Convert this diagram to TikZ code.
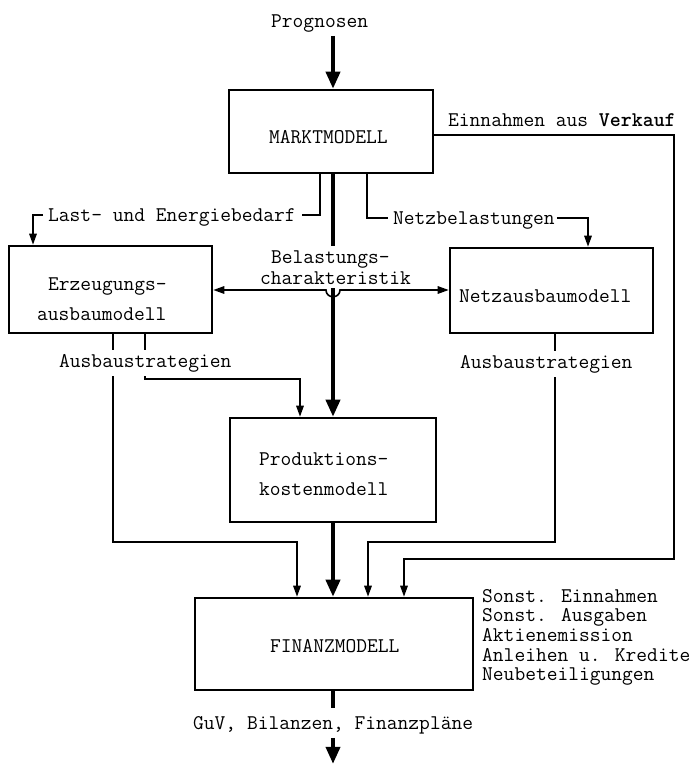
\documentclass[tikz,border=0pt]{standalone}
\usepackage{fontspec}
\usetikzlibrary{arrows.meta,calc}
\begin{document}
\begin{tikzpicture}[x=1pt,y=-1pt,
  txt/.style={font=\ttfamily\fontsize{20.9}{19.7}\selectfont, inner sep=0pt, anchor=base west},
  wtxt/.style={txt, fill=white, inner ysep=4pt, inner xsep=1pt},
  box/.style={draw, line width=2.6pt, inner sep=0pt},
  lnk/.style={line width=1.6pt},
  lnkarrow/.style={lnk, -{Triangle[length=11pt,width=7.5pt]}},
  heavy/.style={line width=3.8pt},
  heavyarrow/.style={heavy, -{Triangle[length=17pt,width=14pt]}}
]
\fill[white] (0,0) rectangle (694,767);
\useasboundingbox (0,0) rectangle (694,767);

% boxes
\node[box, minimum width=204pt, minimum height=83pt] (markt) at (331,131.5) {};
\node[box, minimum width=203pt, minimum height=87pt] (erz) at (110.5,289.5) {};
\node[box, minimum width=203pt, minimum height=85pt] (netz) at (551.5,290.5) {};
\node[box, minimum width=206pt, minimum height=104pt] (prod) at (333,470) {};
\node[box, minimum width=278pt, minimum height=92pt] (finanz) at (334,644) {};

% texts in boxes
\node[txt] (marktT) at (269,144) {MARKTMODELL};
\node[txt] (erzT1) at (48,290) {Erzeugungs-};
\node[txt] (erzT2) at (37,320) {ausbaumodell};
\node[txt] (netzT) at (459,302) {Netzausbaumodell};
\node[txt] (prodT1) at (259,465) {Produktions-};
\node[txt] (prodT2) at (259,495) {kostenmodell};
\node[txt] (finT) at (270,652) {FINANZMODELL};

% free texts
\node[txt] (prog) at (271,28) {Prognosen};
\node[txt] (einn) at (448,127) {Einnahmen aus \textbf{Verkauf}};
\node[txt] (last) at (48,222) {Last- und Energiebedarf};
\node[txt] (netzb) at (393,224) {Netzbelastungen};
\node[txt, align=left, font=\ttfamily\fontsize{20.9}{21}\selectfont] (bel) at (260,284) {\hspace*{11pt}Belastungs-\\charakteristik};
\node[txt] (guv) at (193,729) {GuV, Bilanzen, Finanzpläne};
\foreach \t [count=\i] in {Sonst. Einnahmen,Sonst. Ausgaben,Aktienemission,Anleihen u. Kredite,Neubeteiligungen}
  \node[txt] (side\i) at (482,{582.3+19.7*\i}) {\t};

\coordinate (hop) at (333,290);

% heavy connectors
\draw[heavyarrow] ($(prog.south -| markt.north)+(2,3)$) -- ($(markt.north)+(2,0)$);
\draw[heavy] ($(markt.south)+(2,0)$) -- ($(bel.north -| markt.south)+(2,-4)$);
\draw[heavyarrow] ($(hop)+(0,-2)$) -- (prod.north);
\draw[heavyarrow] (prod.south) -- (prod.south |- finanz.north);
\draw[heavy] ($(finanz.south)+(-1,0)$) -- ($(guv.north -| finanz.south)+(-1,-8)$);
\draw[heavyarrow] ($(guv.south -| finanz.south)+(-1,4)$) -- ++(0,26);

% thin connectors
\draw[lnk] ($(markt.south)+(-11,0)$) |- ($(last.base east)+(6,-7)$);
\draw[lnkarrow] ($(last.base west)+(-5,-7)$) -| ($(erz.north)+(-77.5,0)$);
\draw[lnk] ($(markt.south)+(36,0)$) |- ($(netzb.base west)+(-5,-6)$);
\draw[lnkarrow] ($(netzb.base east)+(2,-6)$) -| ($(netz.north)+(36.5,0)$);
\coordinate (ecorner) at (674,559);
\draw[lnkarrow] ($(markt.east)+(0,3.5)$) -| (ecorner) -| ($(finanz.north)+(70,0)$);
\draw[lnkarrow] ($(erz.south)+(2.5,0)$) |- ($(finanz.north)+(-37,-55)$) -- ($(finanz.north)+(-37,0)$);
\draw[lnkarrow] ($(erz.south)+(34.5,0)$) |- ($(prod.north)+(-33,-38)$) -- ($(prod.north)+(-33,0)$);
\draw[lnkarrow] ($(netz.south)+(3.5,0)$) |- ($(finanz.north)+(34,-55)$) -- ($(finanz.north)+(34,0)$);

% labels that interrupt lines
\node[wtxt] (ausL) at (58,367) {Ausbaustrategien};
\node[wtxt] (ausR) at (459,368) {Ausbaustrategien};

% horizontal double arrow with hop
\draw[lnk, {Triangle[length=11pt,width=7.5pt]}-{Triangle[length=11pt,width=7.5pt]}]
  (erz.east |- hop) -- ($(hop)+(-7,0)$) .. controls ($(hop)+(-7,9)$) and ($(hop)+(7,9)$) .. ($(hop)+(7,0)$) -- (netz.west |- hop);
\end{tikzpicture}
\end{document}
